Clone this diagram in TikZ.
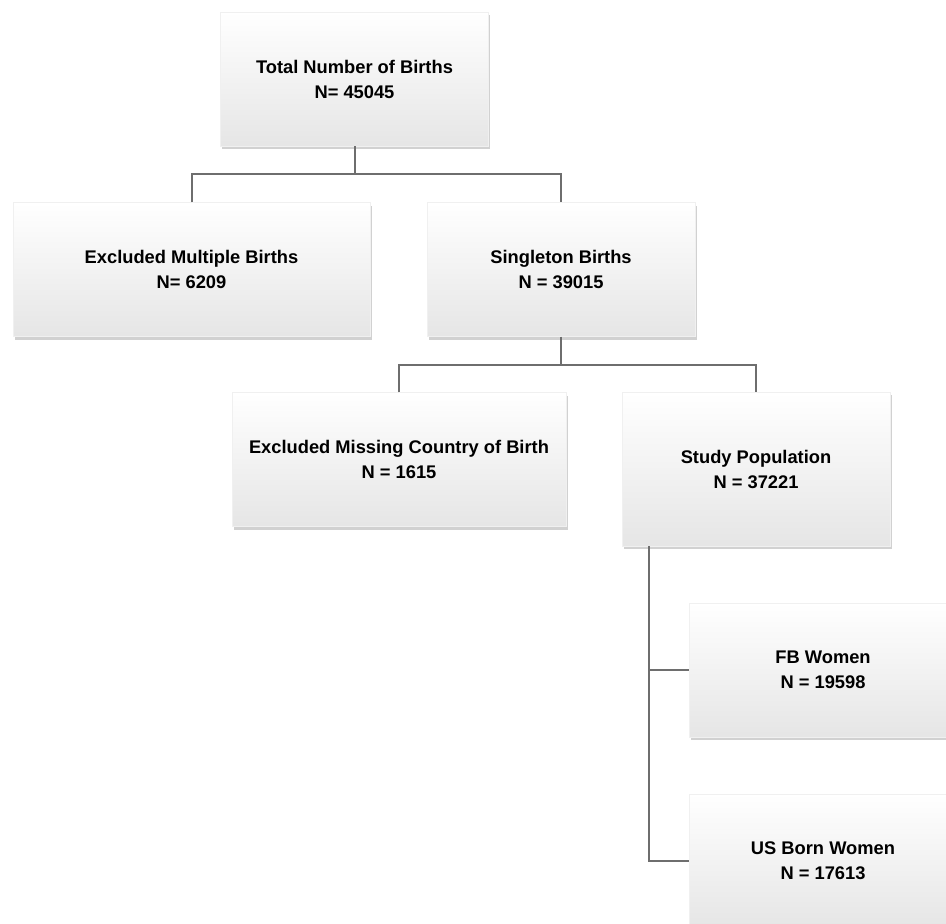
\documentclass[tikz,border=0pt]{standalone}
\usepackage{fontspec}
\setmainfont{Liberation Sans}
\usepackage{tikz}
\usetikzlibrary{shadows}

\definecolor{linegray}{HTML}{6E6E6E}
\tikzset{
  box/.style={rectangle, shade, top color=white, bottom color=black!10,
    draw=black!6, line width=0.4pt, align=center, inner sep=0pt,
    minimum width=268pt, minimum height=134pt,
    font=\fontsize{18.3}{25}\selectfont\bfseries,
    drop shadow={shadow xshift=1.5pt, shadow yshift=-3pt, opacity=0.3, fill=black!60}},
  link/.style={draw=linegray, line width=2pt}
}

\begin{document}
\begin{tikzpicture}[x=1pt,y=-1pt]
\useasboundingbox (0,0) rectangle (946,924);
\clip (0,0) rectangle (946,924);

\node[box] (total) at (354.5,79) {Total Number of Births\\N= 45045};
\node[box, minimum width=357pt] (multi) at (191.5,269.5) {Excluded Multiple Births\\N= 6209};
\node[box] (single) at (561,269.5) {Singleton Births\\N = 39015};
\node[box, minimum width=334pt] (missing) at (399,459.5) {Excluded Missing Country of Birth\\N = 1615};
\node[box, minimum height=154pt] (study) at (756,469) {Study Population\\N = 37221};
\node[box] (fb) at (823,670) {FB Women\\N = 19598};
\node[box] (us) at (823,861) {US Born Women\\N = 17613};

% tree connectors
\draw[link] (total.south) -- ++(0,28) coordinate (t1);
\draw[link] (multi.north) |- (t1) -| (single.north);
\draw[link] (single.south) -- ++(0,28) coordinate (s1);
\draw[link] (missing.north) |- (s1) -| (study.north);
\draw[link] (study.south west) ++(27,0) coordinate (s2) |- (fb.west);
\draw[link] (s2) |- (us.west);
\end{tikzpicture}
\end{document}
